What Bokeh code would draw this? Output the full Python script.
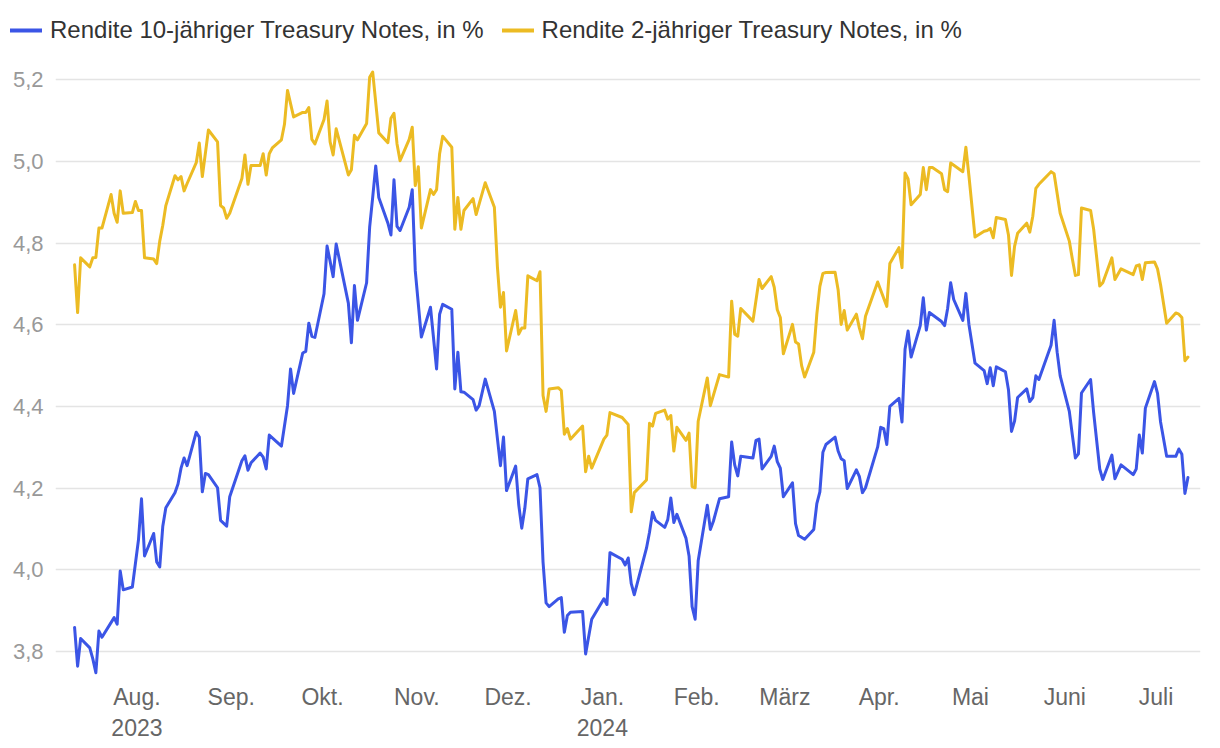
from datetime import datetime
import pandas as pd
from bokeh.plotting import figure
from bokeh.layouts import column
from bokeh.models import (Range1d, FixedTicker, CustomJSTickFormatter, Legend,
                          LegendItem, ColumnDataSource)
from bokeh.embed import file_html
from bokeh.resources import INLINE

# ---------------- data ----------------
dates_10y = [
    "2023-07-12", "2023-07-13", "2023-07-14", "2023-07-17", "2023-07-18", "2023-07-19",
    "2023-07-20", "2023-07-21", "2023-07-25", "2023-07-26", "2023-07-27", "2023-07-28",
    "2023-07-31", "2023-08-02", "2023-08-03", "2023-08-04", "2023-08-07", "2023-08-08",
    "2023-08-09", "2023-08-10", "2023-08-11", "2023-08-14", "2023-08-15", "2023-08-16",
    "2023-08-17", "2023-08-18", "2023-08-21", "2023-08-22", "2023-08-23", "2023-08-24",
    "2023-08-25", "2023-08-28", "2023-08-29", "2023-08-31", "2023-09-01", "2023-09-05",
    "2023-09-06", "2023-09-07", "2023-09-08", "2023-09-11", "2023-09-12", "2023-09-13",
    "2023-09-14", "2023-09-18", "2023-09-20", "2023-09-21", "2023-09-22", "2023-09-25",
    "2023-09-26", "2023-09-27", "2023-09-28", "2023-09-29", "2023-10-02", "2023-10-03",
    "2023-10-05", "2023-10-06", "2023-10-10", "2023-10-11", "2023-10-12", "2023-10-13",
    "2023-10-16", "2023-10-17", "2023-10-18", "2023-10-19", "2023-10-20", "2023-10-23",
    "2023-10-24", "2023-10-25", "2023-10-26", "2023-10-27", "2023-10-30", "2023-10-31",
    "2023-11-01", "2023-11-03", "2023-11-06", "2023-11-08", "2023-11-09", "2023-11-10",
    "2023-11-13", "2023-11-14", "2023-11-15", "2023-11-16", "2023-11-17", "2023-11-20",
    "2023-11-21", "2023-11-22", "2023-11-24", "2023-11-27", "2023-11-29", "2023-11-30",
    "2023-12-01", "2023-12-04", "2023-12-05", "2023-12-06", "2023-12-07", "2023-12-08",
    "2023-12-11", "2023-12-12", "2023-12-13", "2023-12-14", "2023-12-15", "2023-12-18",
    "2023-12-19", "2023-12-20", "2023-12-21", "2023-12-22", "2023-12-26", "2023-12-27",
    "2023-12-29", "2024-01-02", "2024-01-03", "2024-01-04", "2024-01-08", "2024-01-09",
    "2024-01-10", "2024-01-11", "2024-01-12", "2024-01-16", "2024-01-17", "2024-01-18",
    "2024-01-19", "2024-01-22", "2024-01-23", "2024-01-24", "2024-01-25", "2024-01-26",
    "2024-01-29", "2024-01-30", "2024-01-31", "2024-02-01", "2024-02-02", "2024-02-05",
    "2024-02-06", "2024-02-07", "2024-02-09", "2024-02-12", "2024-02-13", "2024-02-14",
    "2024-02-15", "2024-02-16", "2024-02-20", "2024-02-21", "2024-02-22", "2024-02-23",
    "2024-02-26", "2024-02-27", "2024-02-28", "2024-02-29", "2024-03-01", "2024-03-04",
    "2024-03-05", "2024-03-06", "2024-03-08", "2024-03-11", "2024-03-12", "2024-03-13",
    "2024-03-14", "2024-03-15", "2024-03-18", "2024-03-19", "2024-03-20", "2024-03-21",
    "2024-03-22", "2024-03-25", "2024-03-26", "2024-03-27", "2024-03-28", "2024-04-01",
    "2024-04-02", "2024-04-03", "2024-04-04", "2024-04-05", "2024-04-08", "2024-04-09",
    "2024-04-10", "2024-04-11", "2024-04-12", "2024-04-15", "2024-04-16", "2024-04-17",
    "2024-04-18", "2024-04-22", "2024-04-23", "2024-04-24", "2024-04-25", "2024-04-26",
    "2024-04-29", "2024-04-30", "2024-05-01", "2024-05-03", "2024-05-06", "2024-05-07",
    "2024-05-08", "2024-05-09", "2024-05-10", "2024-05-13", "2024-05-14", "2024-05-15",
    "2024-05-16", "2024-05-17", "2024-05-20", "2024-05-21", "2024-05-22", "2024-05-23",
    "2024-05-24", "2024-05-28", "2024-05-29", "2024-05-30", "2024-05-31", "2024-06-03",
    "2024-06-04", "2024-06-05", "2024-06-06", "2024-06-07", "2024-06-10", "2024-06-11",
    "2024-06-13", "2024-06-14", "2024-06-17", "2024-06-18", "2024-06-20", "2024-06-24",
    "2024-06-25", "2024-06-26", "2024-06-27", "2024-06-28", "2024-07-01", "2024-07-02",
    "2024-07-03", "2024-07-05", "2024-07-08", "2024-07-09", "2024-07-10", "2024-07-11",
    "2024-07-12",
]
yield_10y = [
    3.859, 3.764, 3.832, 3.809, 3.782, 3.748,
    3.850, 3.835, 3.883, 3.867, 3.997, 3.951,
    3.958, 4.073, 4.174, 4.034, 4.089, 4.019,
    4.007, 4.107, 4.152, 4.189, 4.210, 4.249,
    4.274, 4.255, 4.337, 4.325, 4.191, 4.236,
    4.233, 4.201, 4.121, 4.107, 4.179, 4.267,
    4.279, 4.244, 4.262, 4.286, 4.276, 4.247,
    4.330, 4.303, 4.402, 4.492, 4.432, 4.531,
    4.535, 4.604, 4.572, 4.569, 4.676, 4.793,
    4.718, 4.798, 4.653, 4.556, 4.696, 4.611,
    4.703, 4.839, 4.912, 4.989, 4.912, 4.849,
    4.820, 4.955, 4.841, 4.831, 4.888, 4.931,
    4.732, 4.570, 4.643, 4.492, 4.626, 4.650,
    4.638, 4.443, 4.533, 4.436, 4.435, 4.417,
    4.391, 4.402, 4.467, 4.388, 4.255, 4.325,
    4.194, 4.254, 4.160, 4.102, 4.150, 4.223,
    4.233, 4.201, 4.019, 3.919, 3.910, 3.929,
    3.932, 3.847, 3.888, 3.896, 3.898, 3.794,
    3.879, 3.929, 3.915, 4.042, 4.026, 4.012,
    4.029, 3.966, 3.939, 4.053, 4.092, 4.141,
    4.121, 4.104, 4.123, 4.176, 4.116, 4.136,
    4.077, 4.034, 3.910, 3.879, 4.022, 4.158,
    4.099, 4.119, 4.174, 4.179, 4.313, 4.257,
    4.230, 4.278, 4.274, 4.317, 4.320, 4.247,
    4.278, 4.303, 4.265, 4.249, 4.179, 4.213,
    4.113, 4.084, 4.075, 4.099, 4.162, 4.191,
    4.288, 4.307, 4.325, 4.291, 4.272, 4.267,
    4.199, 4.245, 4.228, 4.189, 4.201, 4.301,
    4.349, 4.346, 4.307, 4.400, 4.420, 4.362,
    4.540, 4.585, 4.521, 4.598, 4.666, 4.587,
    4.630, 4.608, 4.598, 4.640, 4.703, 4.662,
    4.611, 4.677, 4.601, 4.506, 4.488, 4.456,
    4.495, 4.451, 4.497, 4.485, 4.441, 4.339,
    4.364, 4.422, 4.443, 4.412, 4.422, 4.475,
    4.466, 4.550, 4.611, 4.533, 4.475, 4.388,
    4.330, 4.274, 4.284, 4.433, 4.466, 4.385,
    4.247, 4.221, 4.281, 4.223, 4.257, 4.233,
    4.247, 4.330, 4.286, 4.396, 4.461, 4.432,
    4.362, 4.278, 4.278, 4.296, 4.283, 4.187,
    4.226,
]

dates_2y = [
    "2023-07-12", "2023-07-13", "2023-07-14", "2023-07-17", "2023-07-18", "2023-07-19",
    "2023-07-20", "2023-07-21", "2023-07-24", "2023-07-25", "2023-07-26", "2023-07-27",
    "2023-07-28", "2023-07-31", "2023-08-01", "2023-08-02", "2023-08-03", "2023-08-04",
    "2023-08-07", "2023-08-08", "2023-08-09", "2023-08-10", "2023-08-11", "2023-08-14",
    "2023-08-15", "2023-08-16", "2023-08-17", "2023-08-18", "2023-08-21", "2023-08-22",
    "2023-08-23", "2023-08-25", "2023-08-28", "2023-08-29", "2023-08-30", "2023-08-31",
    "2023-09-01", "2023-09-05", "2023-09-06", "2023-09-07", "2023-09-08", "2023-09-11",
    "2023-09-12", "2023-09-13", "2023-09-14", "2023-09-15", "2023-09-18", "2023-09-19",
    "2023-09-20", "2023-09-22", "2023-09-25", "2023-09-26", "2023-09-27", "2023-09-28",
    "2023-09-29", "2023-10-02", "2023-10-03", "2023-10-04", "2023-10-05", "2023-10-06",
    "2023-10-10", "2023-10-11", "2023-10-12", "2023-10-13", "2023-10-16", "2023-10-17",
    "2023-10-18", "2023-10-20", "2023-10-23", "2023-10-24", "2023-10-25", "2023-10-26",
    "2023-10-27", "2023-10-30", "2023-10-31", "2023-11-01", "2023-11-02", "2023-11-03",
    "2023-11-06", "2023-11-07", "2023-11-08", "2023-11-09", "2023-11-10", "2023-11-13",
    "2023-11-14", "2023-11-15", "2023-11-16", "2023-11-17", "2023-11-20", "2023-11-21",
    "2023-11-24", "2023-11-27", "2023-11-28", "2023-11-29", "2023-11-30", "2023-12-01",
    "2023-12-04", "2023-12-05", "2023-12-06", "2023-12-07", "2023-12-08", "2023-12-11",
    "2023-12-12", "2023-12-13", "2023-12-14", "2023-12-15", "2023-12-18", "2023-12-19",
    "2023-12-20", "2023-12-21", "2023-12-22", "2023-12-26", "2023-12-27", "2023-12-28",
    "2023-12-29", "2024-01-02", "2024-01-03", "2024-01-04", "2024-01-08", "2024-01-10",
    "2024-01-11", "2024-01-12", "2024-01-16", "2024-01-17", "2024-01-18", "2024-01-19",
    "2024-01-22", "2024-01-23", "2024-01-24", "2024-01-25", "2024-01-26", "2024-01-29",
    "2024-01-30", "2024-01-31", "2024-02-01", "2024-02-02", "2024-02-05", "2024-02-06",
    "2024-02-09", "2024-02-12", "2024-02-13", "2024-02-14", "2024-02-15", "2024-02-16",
    "2024-02-20", "2024-02-22", "2024-02-23", "2024-02-26", "2024-02-27", "2024-02-28",
    "2024-02-29", "2024-03-01", "2024-03-04", "2024-03-05", "2024-03-06", "2024-03-07",
    "2024-03-08", "2024-03-11", "2024-03-12", "2024-03-13", "2024-03-14", "2024-03-15",
    "2024-03-18", "2024-03-19", "2024-03-20", "2024-03-21", "2024-03-22", "2024-03-25",
    "2024-03-26", "2024-03-27", "2024-03-28", "2024-04-01", "2024-04-04", "2024-04-05",
    "2024-04-08", "2024-04-09", "2024-04-10", "2024-04-11", "2024-04-12", "2024-04-15",
    "2024-04-16", "2024-04-17", "2024-04-18", "2024-04-19", "2024-04-22", "2024-04-23",
    "2024-04-24", "2024-04-25", "2024-04-29", "2024-04-30", "2024-05-01", "2024-05-03",
    "2024-05-06", "2024-05-07", "2024-05-08", "2024-05-09", "2024-05-10", "2024-05-13",
    "2024-05-14", "2024-05-15", "2024-05-16", "2024-05-17", "2024-05-20", "2024-05-21",
    "2024-05-22", "2024-05-23", "2024-05-24", "2024-05-28", "2024-05-29", "2024-05-31",
    "2024-06-03", "2024-06-04", "2024-06-05", "2024-06-06", "2024-06-07", "2024-06-10",
    "2024-06-11", "2024-06-13", "2024-06-14", "2024-06-17", "2024-06-18", "2024-06-20",
    "2024-06-24", "2024-06-25", "2024-06-26", "2024-06-27", "2024-06-28", "2024-07-01",
    "2024-07-02", "2024-07-03", "2024-07-05", "2024-07-08", "2024-07-09", "2024-07-10",
    "2024-07-11", "2024-07-12",
]
yield_2y = [
    4.747, 4.630, 4.764, 4.742, 4.764, 4.765,
    4.837, 4.837, 4.919, 4.873, 4.851, 4.928,
    4.873, 4.875, 4.902, 4.880, 4.880, 4.764,
    4.761, 4.750, 4.805, 4.844, 4.892, 4.965,
    4.955, 4.963, 4.928, 4.946, 4.997, 5.045,
    4.963, 5.077, 5.048, 4.892, 4.886, 4.861,
    4.873, 4.958, 5.016, 4.944, 4.990, 4.990,
    5.019, 4.967, 5.019, 5.033, 5.053, 5.091,
    5.174, 5.109, 5.120, 5.120, 5.132, 5.054,
    5.043, 5.103, 5.148, 5.048, 5.016, 5.080,
    4.967, 4.980, 5.064, 5.053, 5.093, 5.206,
    5.219, 5.070, 5.046, 5.106, 5.118, 5.043,
    5.002, 5.054, 5.084, 4.941, 4.987, 4.837,
    4.931, 4.919, 4.931, 5.019, 5.062, 5.035,
    4.834, 4.912, 4.834, 4.880, 4.909, 4.870,
    4.948, 4.888, 4.742, 4.643, 4.679, 4.536,
    4.635, 4.577, 4.592, 4.592, 4.720, 4.708,
    4.730, 4.427, 4.388, 4.443, 4.446, 4.439,
    4.332, 4.346, 4.320, 4.352, 4.240, 4.278,
    4.249, 4.320, 4.330, 4.385, 4.373, 4.356,
    4.142, 4.189, 4.220, 4.359, 4.352, 4.383,
    4.391, 4.369, 4.378, 4.291, 4.349, 4.317,
    4.335, 4.204, 4.201, 4.364, 4.470, 4.402,
    4.478, 4.472, 4.658, 4.577, 4.572, 4.640,
    4.609, 4.711, 4.689, 4.718, 4.692, 4.637,
    4.618, 4.529, 4.601, 4.558, 4.553, 4.500,
    4.472, 4.533, 4.626, 4.694, 4.726, 4.728,
    4.729, 4.686, 4.601, 4.635, 4.587, 4.626,
    4.592, 4.566, 4.621, 4.705, 4.645, 4.750,
    4.789, 4.740, 4.972, 4.957, 4.894, 4.919,
    4.985, 4.931, 4.985, 4.985, 4.970, 4.931,
    4.926, 4.996, 4.975, 5.035, 4.965, 4.815,
    4.829, 4.831, 4.836, 4.813, 4.863, 4.858,
    4.820, 4.721, 4.792, 4.824, 4.849, 4.827,
    4.866, 4.934, 4.944, 4.975, 4.970, 4.873,
    4.805, 4.761, 4.721, 4.723, 4.886, 4.880,
    4.834, 4.695, 4.703, 4.764, 4.711, 4.737,
    4.723, 4.744, 4.747, 4.711, 4.752, 4.754,
    4.737, 4.698, 4.604, 4.629, 4.626, 4.618,
    4.512, 4.521,
]

month_ticks = ["2023-08-01", "2023-09-01", "2023-10-01", "2023-11-01", "2023-12-01",
               "2024-01-01", "2024-02-01", "2024-03-01", "2024-04-01", "2024-05-01",
               "2024-06-01", "2024-07-01"]
month_labels = ["Aug.\n2023", "Sep.", "Okt.", "Nov.", "Dez.", "Jan.\n2024", "Feb.",
                "März", "Apr.", "Mai", "Juni", "Juli"]
y_ticks = [3.8, 4.0, 4.2, 4.4, 4.6, 4.8, 5.0, 5.2]

series_labels = ["Rendite 10-jähriger Treasury Notes, in %",
                 "Rendite 2-jähriger Treasury Notes, in %"]
BLUE = "#3b55e6"
YELLOW = "#ecbb23"
FONT = "Liberation Sans"
W = 1212
LEG_H = 50

# ---------------- legend strip (top) ----------------
leg = figure(width=W, height=LEG_H, x_range=Range1d(0, W), y_range=Range1d(0, LEG_H),
             output_backend="svg", toolbar_location=None,
             min_border_left=0, min_border_right=0, min_border_top=0, min_border_bottom=0,
             x_axis_location=None, y_axis_location=None)
leg.outline_line_color = None
leg.xgrid.visible = False
leg.ygrid.visible = False
if "frame_align" in leg.properties():
    leg.frame_align = False
# key lines for the legend only (kept outside the visible range of this strip)
k10 = leg.line(x=[-20, -10], y=[-20, -20], line_color=BLUE, line_width=4, line_cap="round")
k2 = leg.line(x=[-20, -10], y=[-20, -20], line_color=YELLOW, line_width=4, line_cap="round")
legend = Legend(items=[LegendItem(label=series_labels[0], renderers=[k10]),
                       LegendItem(label=series_labels[1], renderers=[k2])],
                orientation="horizontal", location=(10, 6),
                glyph_width=32, glyph_height=20, label_standoff=8, spacing=18,
                padding=0, margin=0, border_line_color=None,
                background_fill_alpha=0,
                label_text_font=FONT, label_text_font_size="24px",
                label_text_color="#333333")
leg.add_layout(legend)

# ---------------- main chart ----------------
x_start = datetime(2023, 7, 5, 17, 30)
x_end = datetime(2024, 7, 16, 3, 0)

p = figure(width=W, height=743 - LEG_H, x_axis_type="datetime",
           x_range=Range1d(x_start, x_end), y_range=Range1d(3.729, 5.235),
           output_backend="svg", toolbar_location=None,
           min_border_left=55, min_border_right=12,
           min_border_top=65 - LEG_H, min_border_bottom=63)
if "frame_align" in p.properties():
    p.frame_align = False
p.outline_line_color = None
p.background_fill_color = "white"
p.border_fill_color = "white"

src10 = ColumnDataSource(dict(x=pd.to_datetime(dates_10y), y=yield_10y))
src2 = ColumnDataSource(dict(x=pd.to_datetime(dates_2y), y=yield_2y))
p.line("x", "y", source=src10, line_color=BLUE, line_width=3,
       line_join="round", line_cap="round")
p.line("x", "y", source=src2, line_color=YELLOW, line_width=3,
       line_join="round", line_cap="round")

# grid
p.xgrid.grid_line_color = None
p.ygrid.grid_line_color = "#e4e4e4"
p.ygrid.grid_line_width = 1.5

# y axis
p.yaxis.ticker = FixedTicker(ticks=y_ticks)
p.yaxis.formatter = CustomJSTickFormatter(code="return tick.toFixed(1).replace('.', ',');")
p.yaxis.axis_line_color = None
p.yaxis.major_tick_line_color = None
p.yaxis.minor_tick_line_color = None
p.yaxis.major_tick_out = 0
p.yaxis.major_tick_in = 0
p.yaxis.major_label_standoff = 12
p.yaxis.major_label_text_font = FONT
p.yaxis.major_label_text_font_size = "22px"
p.yaxis.major_label_text_color = "#999999"

# x axis
tick_ms = [(pd.Timestamp(t) + pd.Timedelta(hours=12)).value / 1e6 for t in month_ticks]
p.xaxis.ticker = FixedTicker(ticks=tick_ms)
p.xaxis.formatter = CustomJSTickFormatter(
    args=dict(tick_pos=tick_ms, tick_labels=month_labels),
    code="""
    for (let i = 0; i < tick_pos.length; i++) {
        if (Math.abs(tick_pos[i] - tick) < 1000) { return tick_labels[i]; }
    }
    return '';
    """)
p.xaxis.axis_line_color = None
p.xaxis.major_tick_line_color = None
p.xaxis.minor_tick_line_color = None
p.xaxis.major_tick_out = 0
p.xaxis.major_tick_in = 0
p.xaxis.major_label_standoff = 3
p.xaxis.major_label_text_font = FONT
p.xaxis.major_label_text_font_size = "23px"
p.xaxis.major_label_text_color = "#666666"

layout = column(leg, p, spacing=0)
open("out.html", "w").write(file_html(layout, INLINE))
